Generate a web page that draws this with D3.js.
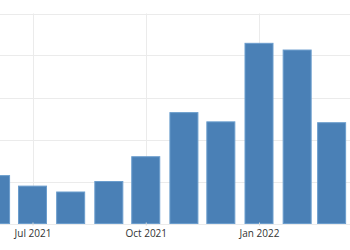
<!DOCTYPE html>
<html>
<head>
<meta charset="utf-8">
<script src="https://cdn.jsdelivr.net/npm/d3@7"></script>
<style>
  body { margin: 0; background: #fff; }
  svg { display: block; }
</style>
</head>
<body>
<svg id="chart" width="350" height="250"></svg>
<script>
// monthly values, Jun 2021 .. Mar 2022
var months = ["2021-06", "2021-07", "2021-08", "2021-09", "2021-10", "2021-11", "2021-12", "2022-01", "2022-02", "2022-03"];
var values = [1.14, 0.89, 0.75, 1.0, 1.59, 2.64, 2.42, 4.29, 4.13, 2.40];
var yTicks = [0, 1, 2, 3, 4, 5];
var xTicks = ["2021-07", "2021-10", "2022-01"];
var xGrid = ["2021-07", "2021-10", "2022-01"];

var parse = d3.timeParse("%Y-%m");
var fmt = d3.timeFormat("%b %Y");

var svg = d3.select("#chart");
var width = 350, height = 250;

// time scale anchored so Jul 1 2021 -> 32.5px, Jan 1 2022 -> 259px
var x = d3.scaleTime()
    .domain([parse("2021-07"), parse("2022-01")])
    .range([32.5, 259]);
var y = d3.scaleLinear()
    .domain([0, 5])
    .range([223.5, 13.5]);

var barW = 28;

var g = svg.append("g");

// horizontal grid
g.selectAll(".hgrid")
    .data(yTicks)
    .enter().append("line")
    .attr("class", "hgrid")
    .attr("x1", 0)
    .attr("x2", width)
    .attr("y1", function(d) { return Math.round(y(d)) + 0.5; })
    .attr("y2", function(d) { return Math.round(y(d)) + 0.5; })
    .style("stroke", "#ebebeb")
    .style("stroke-width", "1px");

// vertical grid
g.selectAll(".vgrid")
    .data(xGrid)
    .enter().append("line")
    .attr("class", "vgrid")
    .attr("x1", function(d) { return Math.round(x(parse(d))) + 0.5; })
    .attr("x2", function(d) { return Math.round(x(parse(d))) + 0.5; })
    .attr("y1", y(5))
    .attr("y2", y(0))
    .style("stroke", "#ebebeb")
    .style("stroke-width", "1px");

// bars
g.selectAll(".bar")
    .data(values)
    .enter().append("rect")
    .attr("class", "bar")
    .attr("x", function(d, i) { return x(parse(months[i])) - barW / 2; })
    .attr("width", barW)
    .attr("y", function(d) { return y(d); })
    .attr("height", function(d) { return y(0) - y(d); })
    .style("fill", "#4a80b6")
    .style("stroke", "#6b9dcd")
    .style("stroke-width", "1px");

// x axis labels
var xAxis = d3.axisBottom(x)
    .tickValues(xTicks.map(parse))
    .tickFormat(fmt)
    .tickSize(3)
    .tickPadding(4);

var ax = g.append("g")
    .attr("transform", "translate(0," + (y(0) - 1) + ")")
    .call(xAxis);
ax.select(".domain").remove();
ax.selectAll(".tick line").style("stroke", "#d8d8d8");
ax.selectAll(".tick text")
    .style("font-family", "'Open Sans', 'DejaVu Sans', sans-serif")
    .style("font-size", "10px")
    .style("fill", "#333");
</script>
</body>
</html>
